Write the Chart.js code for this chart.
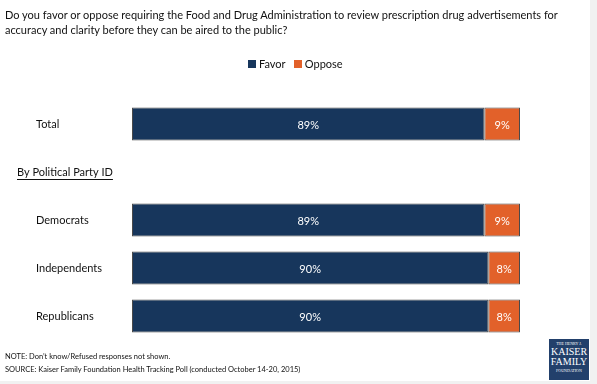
<!DOCTYPE html>
<html>
<head>
<meta charset="utf-8">
<script src="https://cdn.jsdelivr.net/npm/chart.js@4/dist/chart.umd.min.js"></script>
<style>
  html, body { margin: 0; padding: 0; background: #fff; }
  body { width: 597px; height: 384px; position: relative; overflow: hidden; font-family: Lato, "Open Sans", sans-serif; color: #111; }
  #wrap { position: absolute; left: 0; top: 0; width: 597px; height: 384px; }
  .t { position: absolute; white-space: nowrap; }
  #title { left: 5px; top: 7px; font-size: 11px; line-height: 15px; }
  #legend { left: 248px; top: 57px; font-size: 11px; line-height: 13px; }
  .sw { display: inline-block; width: 8px; height: 8px; margin-right: 3px; vertical-align: -0px; }
  #note { left: 5px; top: 350px; font-size: 7.5px; line-height: 13px; }
  #logo { position: absolute; left: 549px; top: 339px; width: 40px; height: 41px; background: #22406B; color: #fff; font-family: "Liberation Serif", serif; text-align: center; }
  #rstrip { position: absolute; left: 590px; top: 0; width: 7px; height: 384px; background: #f1f1f1; }
  #bstrip { position: absolute; left: 0; top: 381px; width: 597px; height: 3px; background: #f1f1f1; }
</style>
</head>
<body>
<div id="wrap"><canvas id="c" width="597" height="384"></canvas></div>
<div id="rstrip"></div>
<div id="bstrip"></div>
<div class="t" id="title">Do you favor or oppose requiring the Food and Drug Administration to review prescription drug advertisements for<br>accuracy and clarity before they can be aired to the public?</div>
<div class="t" id="legend"><span class="sw" style="background:#17365C"></span>Favor&nbsp;&nbsp;&nbsp;<span class="sw" style="background:#E2612A"></span>Oppose</div>
<div class="t" id="note">NOTE: Don’t know/Refused responses not shown.<br>SOURCE: Kaiser Family Foundation Health Tracking Poll (conducted October 14-20, 2015)</div>
<div id="logo">
  <div style="font-size:4px;line-height:6px;margin-top:2px;">THE HENRY J.</div>
  <div style="font-size:10px;line-height:10px;">KAISER</div>
  <div style="font-size:10px;line-height:10px;">FAMILY</div>
  <div style="font-size:4px;line-height:7px;">FOUNDATION</div>
</div>
<script>
const categories = ["Total", "By Political Party ID", "Democrats", "Independents", "Republicans"];
const favor = [89, null, 89, 90, 90];
const oppose = [9, null, 9, 8, 8];
const seriesNames = ["Favor", "Oppose"];
const seriesColors = ["#17365C", "#E2612A"];

const labelPlugin = {
  id: 'labels',
  afterDatasetsDraw(chart) {
    const ctx = chart.ctx;
    const y = chart.scales.y;
    ctx.save();
    ctx.textBaseline = 'middle';
    ctx.textAlign = 'left';
    ctx.fillStyle = '#111';
    categories.forEach((c, i) => {
      const py = y.getPixelForValue(i);
      ctx.font = '11px Lato, sans-serif';
      if (i === 1) {
        const x = 17;
        ctx.fillText(c, x, py);
        const w = ctx.measureText(c).width;
        ctx.fillRect(x, py + 7, w, 1);
      } else {
        ctx.fillText(c, 36, py);
      }
    });
    ctx.textAlign = 'center';
    ctx.font = '11px Lato, sans-serif';
    ctx.fillStyle = '#ffffff';
    chart.data.datasets.forEach((ds, di) => {
      const meta = chart.getDatasetMeta(di);
      meta.data.forEach((bar, i) => {
        if (ds.data[i] == null) return;
        const cx = (bar.x + bar.base) / 2;
        ctx.fillText(ds.data[i] + '%', cx, bar.y + 1);
      });
    });
    ctx.restore();
  }
};

new Chart(document.getElementById('c'), {
  type: 'bar',
  data: {
    labels: categories,
    datasets: [
      { label: seriesNames[0], data: favor, backgroundColor: seriesColors[0], borderColor: '#4a4a4a', borderWidth: 1, borderSkipped: false },
      { label: seriesNames[1], data: oppose, backgroundColor: seriesColors[1], borderColor: '#4a4a4a', borderWidth: 1, borderSkipped: false }
    ]
  },
  options: {
    indexAxis: 'y',
    responsive: false,
    animation: false,
    layout: { padding: { left: 132, right: 77, top: 100, bottom: 44 } },
    datasets: { bar: { categoryPercentage: 1, barPercentage: 0.69 } },
    scales: {
      x: { stacked: true, min: 0, max: 98, display: false },
      y: { stacked: true, display: false }
    },
    plugins: { legend: { display: false }, tooltip: { enabled: false } }
  },
  plugins: [labelPlugin]
});
</script>
</body>
</html>
